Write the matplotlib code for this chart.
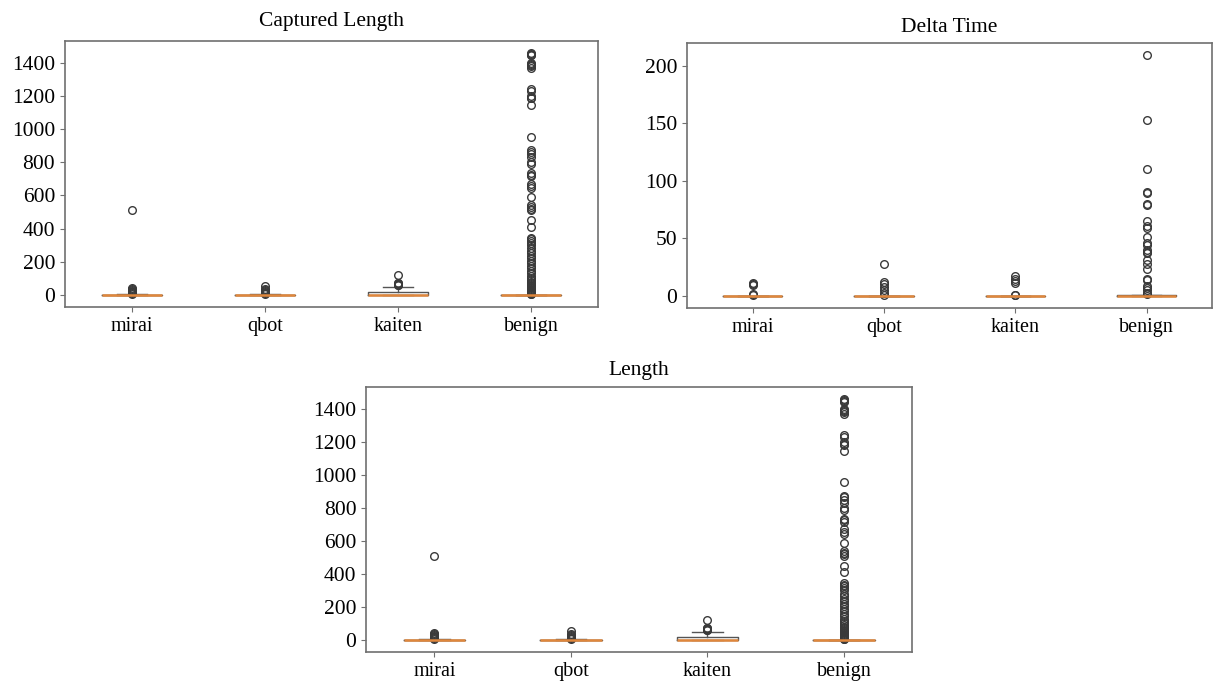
import matplotlib
matplotlib.use("Agg")
import matplotlib.pyplot as plt

plt.rcParams["font.family"] = ["Liberation Serif", "DejaVu Serif"]

classes = ["mirai", "qbot", "kaiten", "benign"]

# box summaries per class: median, q1, q3, lower whisker, upper whisker
cap_med = [0, 0, 0, 0]
cap_q1 = [0, 0, 0, 0]
cap_q3 = [2, 2, 20, 0]
cap_whislo = [0, 0, 0, 0]
cap_whishi = [3, 4, 48, 0]
cap_fliers = [
    [5, 10, 15, 20, 25, 30, 35, 40, 510],
    [6, 12, 18, 24, 30, 36, 55],
    [58, 62, 66, 70, 74, 118],
    [1460, 1455, 1450, 1445, 1400, 1395, 1390, 1380, 1370, 1240, 1230,
     1200, 1190, 1185, 1145, 955, 875, 865, 850, 830, 800, 790, 735, 725,
     715, 670, 655, 645, 590, 540, 530, 520, 510, 450, 410, 345, 335, 325,
     315, 300, 280, 265, 250, 235, 220, 205, 190, 175, 160, 145, 130, 115,
     100, 90, 80, 70, 60, 54, 48, 42, 36, 30, 25, 20, 15, 10, 6, 3],
]

dt_med = [0, 0, 0, 0]
dt_q1 = [0, 0, 0, 0]
dt_q3 = [0.05, 0.05, 0.05, 0.5]
dt_whislo = [0, 0, 0, 0]
dt_whishi = [0.1, 0.1, 0.1, 1]
dt_fliers = [
    [1, 2, 9.5, 10.5, 11],
    [1, 3, 5, 8, 10, 12, 28],
    [0.5, 1, 11.5, 13, 15, 17],
    [209, 153, 110, 90, 89, 80, 79, 65, 61, 59, 51, 46, 44, 40, 38, 37,
     31, 28, 23, 15, 14, 9, 7, 5, 3, 2],
]

# Length has the same distribution as Captured Length
len_med = cap_med
len_q1 = cap_q1
len_q3 = cap_q3
len_whislo = cap_whislo
len_whishi = cap_whishi
len_fliers = cap_fliers

SPINE = "#707070"
MEDIAN = "#e0873c"


def build_stats(med, q1, q3, lo, hi, fl):
    return [dict(label=c, med=m, q1=a, q3=b, whislo=w0, whishi=w1, fliers=f)
            for c, m, a, b, w0, w1, f in zip(classes, med, q1, q3, lo, hi, fl)]


def draw(ax, stats, title, yticks, pad=9):
    ax.bxp(stats, widths=0.45,
           boxprops=dict(color="#555555", linewidth=1.0),
           whiskerprops=dict(color="#555555", linewidth=1.0),
           capprops=dict(color="#555555", linewidth=1.0),
           medianprops=dict(color=MEDIAN, linewidth=1.8),
           flierprops=dict(marker="o", markerfacecolor="none",
                           markeredgecolor="#3a3a3a", markersize=5.5,
                           markeredgewidth=1.0))
    ax.set_title(title, fontsize=15.5, pad=pad)
    ax.set_yticks(yticks)
    ax.tick_params(axis="y", labelsize=15.5)
    ax.tick_params(axis="x", labelsize=14.5, pad=4)
    ax.tick_params(color=SPINE, length=3.5)
    for s in ax.spines.values():
        s.set_color(SPINE)
        s.set_linewidth(1.2)


fig = plt.figure(figsize=(12.14, 6.86), dpi=100)
ax1 = fig.add_axes([0.0535, 0.5525, 0.439, 0.388])
ax2 = fig.add_axes([0.566, 0.551, 0.4325, 0.386])
ax3 = fig.add_axes([0.3015, 0.0496, 0.45, 0.386])

draw(ax1, build_stats(cap_med, cap_q1, cap_q3, cap_whislo, cap_whishi, cap_fliers),
     "Captured Length", range(0, 1401, 200), pad=11)
draw(ax2, build_stats(dt_med, dt_q1, dt_q3, dt_whislo, dt_whishi, dt_fliers),
     "Delta Time", range(0, 201, 50), pad=8)
draw(ax3, build_stats(len_med, len_q1, len_q3, len_whislo, len_whishi, len_fliers),
     "Length", range(0, 1401, 200), pad=9)

fig.savefig("out.png", dpi=100)
